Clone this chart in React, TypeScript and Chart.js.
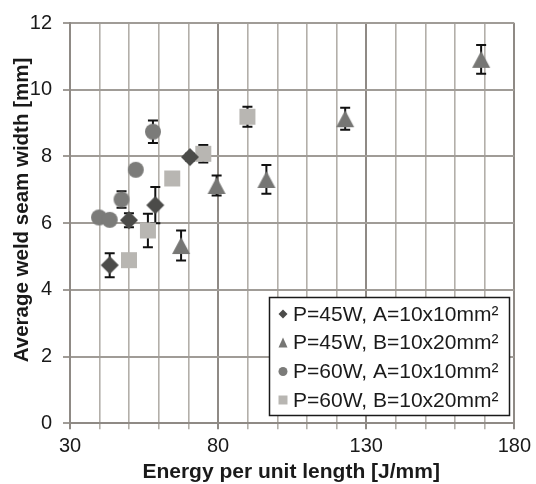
import React, { useEffect, useRef } from "react";
import { Chart, registerables } from "chart.js";

Chart.register(...registerables);

// ---- data ----
const seriesLabels = [
  "P=45W, A=10x10mm²",
  "P=45W, B=10x20mm²",
  "P=60W, A=10x10mm²",
  "P=60W, B=10x20mm²",
];

const energyA45 = [43.4, 49.9, 58.8, 70.5];
const widthA45 = [4.74, 6.09, 6.54, 7.98];
const errA45 = [0.36, 0.21, 0.54, 0.1];

const energyB45 = [67.5, 79.5, 96.3, 122.9, 168.8];
const widthB45 = [5.33, 7.13, 7.31, 9.13, 10.91];
const errB45 = [0.45, 0.3, 0.43, 0.33, 0.43];

const energyA60 = [39.8, 43.4, 47.4, 52.2, 58.0];
const widthA60 = [6.17, 6.1, 6.71, 7.6, 8.74];
const errA60 = [0.1, 0.1, 0.25, 0.1, 0.34];

const energyB60 = [49.9, 56.3, 64.5, 75.0, 89.9];
const widthB60 = [4.89, 5.78, 7.34, 8.08, 9.19];
const errB60 = [0.1, 0.5, 0.1, 0.26, 0.3];

const xLabelTicks = [30, 80, 130, 180];
const xTitle = "Energy per unit length [J/mm]";
const yTitle = "Average weld seam width [mm]";

// ---- styles ----
const shapes = ["diamond", "triangle", "circle", "square"];
const colors = ["#4b4b49", "#767674", "#7b7b79", "#b8b6b2"];
const FONT = "'Liberation Sans', Arial, sans-serif";

function drawShape(ctx: CanvasRenderingContext2D, shape: string, cx: number, cy: number, w: number, h: number) {
  ctx.beginPath();
  if (shape === "diamond") {
    ctx.moveTo(cx, cy - h / 2);
    ctx.lineTo(cx + w / 2, cy);
    ctx.lineTo(cx, cy + h / 2);
    ctx.lineTo(cx - w / 2, cy);
    ctx.closePath();
  } else if (shape === "triangle") {
    ctx.moveTo(cx, cy - h / 2);
    ctx.lineTo(cx + w / 2, cy + h / 2);
    ctx.lineTo(cx - w / 2, cy + h / 2);
    ctx.closePath();
  } else if (shape === "circle") {
    ctx.arc(cx, cy, w / 2, 0, Math.PI * 2);
  } else {
    ctx.rect(cx - w / 2, cy - h / 2, w, h);
  }
  ctx.fill();
}

function makeMarker(shape: string, color: string) {
  const dims: Record<string, [number, number]> = {
    diamond: [18, 18],
    triangle: [18, 17],
    circle: [16, 16],
    square: [16, 16],
  };
  const [w, h] = dims[shape];
  const c = document.createElement("canvas");
  c.width = w + 2;
  c.height = h + 2;
  const ctx = c.getContext("2d")!;
  ctx.fillStyle = color;
  drawShape(ctx, shape, c.width / 2, c.height / 2, w, h);
  return c;
}

const errorBarPlugin = {
  id: "errorBars",
  beforeDatasetsDraw(chart: any) {
    const ctx = chart.ctx;
    const xs = chart.scales.x;
    const ys = chart.scales.y;
    ctx.save();
    ctx.strokeStyle = "#111111";
    ctx.lineWidth = 2;
    chart.data.datasets.forEach((ds: any) => {
      ds.data.forEach((p: any, j: number) => {
        const e = ds.errors[j];
        const x = xs.getPixelForValue(p.x);
        const yt = ys.getPixelForValue(p.y + e);
        const yb = ys.getPixelForValue(p.y - e);
        ctx.beginPath();
        ctx.moveTo(x, yt);
        ctx.lineTo(x, yb);
        ctx.moveTo(x - 5, yt);
        ctx.lineTo(x + 5, yt);
        ctx.moveTo(x - 5, yb);
        ctx.lineTo(x + 5, yb);
        ctx.stroke();
      });
    });
    ctx.restore();
  },
};

const annotationsPlugin = {
  id: "titlesLegend",
  afterDraw(chart: any) {
    const ctx = chart.ctx;
    const area = chart.chartArea;
    ctx.save();
    // axis titles
    ctx.fillStyle = "#1a1a1a";
    ctx.font = `bold 21px ${FONT}`;
    ctx.textAlign = "center";
    ctx.textBaseline = "alphabetic";
    ctx.fillText(xTitle, (area.left + area.right) / 2 - 1, 478);
    ctx.save();
    ctx.translate(27.5, 210);
    ctx.rotate(-Math.PI / 2);
    ctx.font = `bold 20.5px ${FONT}`;
    ctx.fillText(yTitle, 0, 0);
    ctx.restore();

    // legend
    const bx = 269.5, by = 297.5, bw = 240, bh = 118;
    ctx.fillStyle = "#ffffff";
    ctx.fillRect(bx, by, bw, bh);
    ctx.strokeStyle = "#1a1a1a";
    ctx.lineWidth = 1.5;
    ctx.strokeRect(bx, by, bw, bh);
    const rowY = [314, 342.5, 371.5, 400];
    const small: Record<string, [number, number]> = {
      diamond: [9, 9],
      triangle: [9, 10],
      circle: [9, 9],
      square: [9, 9],
    };
    chart.data.datasets.forEach((ds: any, i: number) => {
      const y = rowY[i];
      const [w, h] = small[ds.shape];
      ctx.fillStyle = ds.color;
      drawShape(ctx, ds.shape, 283, y, w, h);
      ctx.fillStyle = "#1a1a1a";
      ctx.font = `21px ${FONT}`;
      ctx.textAlign = "left";
      ctx.textBaseline = "middle";
      ctx.fillText(ds.label, 293, y + 1);
    });
    ctx.restore();
  },
};

export default function App() {
  const ref = useRef<HTMLCanvasElement | null>(null);

  useEffect(() => {
    document.body.style.margin = "0";
    const xsArr = [energyA45, energyB45, energyA60, energyB60];
    const ysArr = [widthA45, widthB45, widthA60, widthB60];
    const esArr = [errA45, errB45, errA60, errB60];
    const datasets = seriesLabels.map((label, i) => ({
      label,
      data: xsArr[i].map((x, j) => ({ x, y: ysArr[i][j] })),
      errors: esArr[i],
      shape: shapes[i],
      color: colors[i],
      pointStyle: makeMarker(shapes[i], colors[i]),
      backgroundColor: colors[i],
      borderWidth: 0,
      showLine: false,
    }));

    const chart = new Chart(ref.current!, {
      type: "scatter",
      data: { datasets: datasets as any },
      options: {
        animation: false,
        responsive: false,
        events: [],
        layout: { padding: { top: 18, right: 19.3, left: 0, bottom: 0 } },
        plugins: {
          legend: { display: false },
          tooltip: { enabled: false },
        },
        scales: {
          x: {
            type: "linear",
            min: 30,
            max: 180,
            afterFit: (s: any) => {
              s.height = 60.7;
            },
            ticks: {
              stepSize: 10,
              autoSkip: false,
              maxRotation: 0,
              padding: 5,
              color: "#1a1a1a",
              font: { family: FONT, size: 20 },
              callback: (v: any) => (xLabelTicks.includes(Number(v)) ? String(v) : ""),
            },
            grid: {
              color: (c: any) =>
                c.tick && xLabelTicks.includes(c.tick.value) ? "#8f8a85" : "#b3afa9",
              lineWidth: (c: any) =>
                c.tick && xLabelTicks.includes(c.tick.value) ? 2 : 1.6,
              tickLength: 6,
            },
            border: { color: "#8f8a85", width: 2 },
          },
          y: {
            type: "linear",
            min: 0,
            max: 12,
            afterFit: (s: any) => {
              s.width = 70;
            },
            ticks: {
              stepSize: 2,
              padding: 11,
              color: "#1a1a1a",
              font: { family: FONT, size: 20 },
            },
            grid: { color: "#a09c97", lineWidth: 2, tickLength: 7 },
            border: { color: "#8f8a85", width: 2 },
          },
        },
      },
      plugins: [errorBarPlugin, annotationsPlugin],
    });
    return () => chart.destroy();
  }, []);

  return (
    <div style={{ width: 536, height: 484, background: "#ffffff" }}>
      <canvas ref={ref} width={536} height={484} style={{ display: "block" }} />
    </div>
  );
}
